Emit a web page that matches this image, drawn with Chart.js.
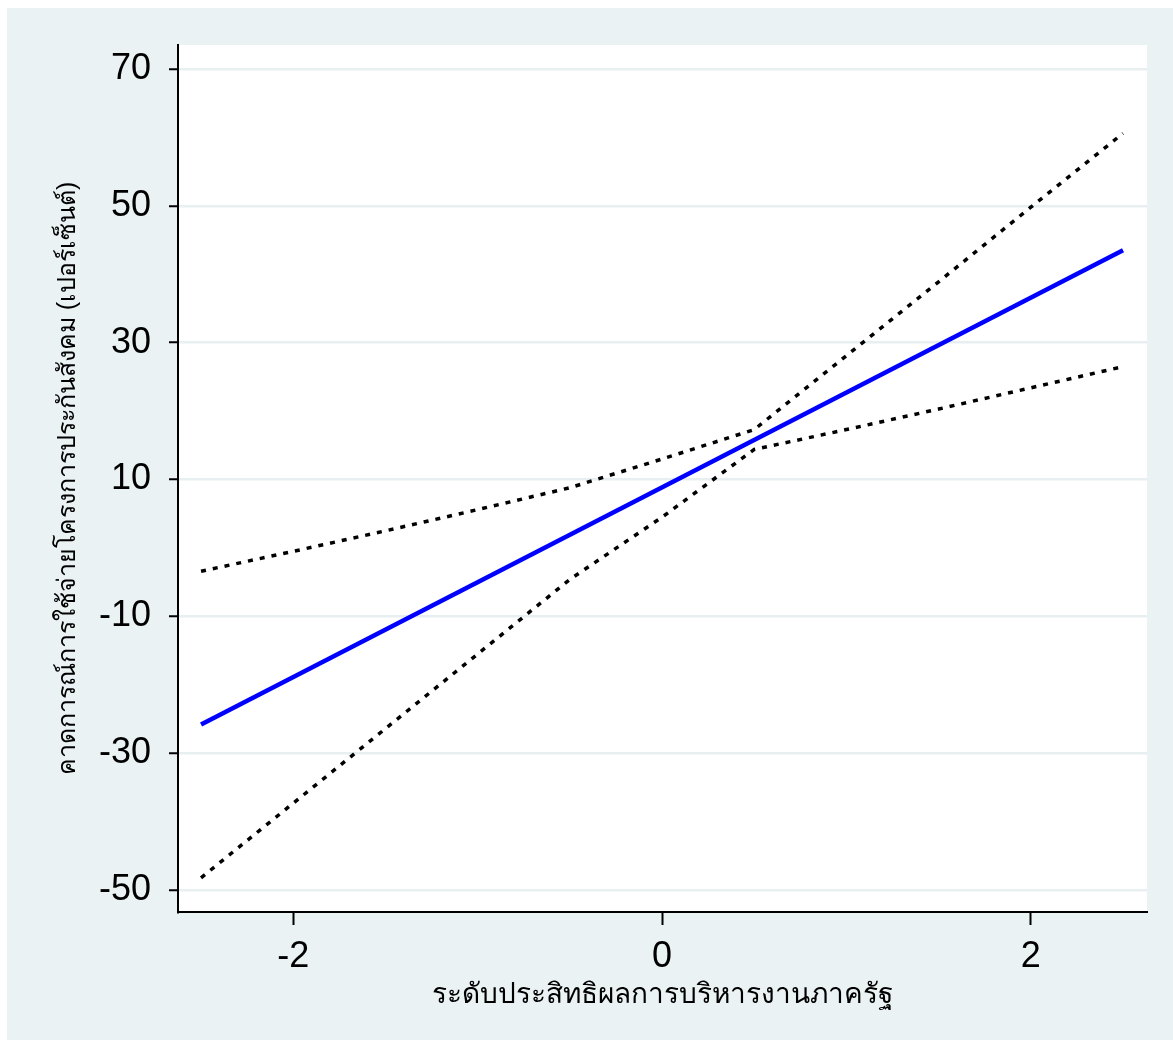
<!DOCTYPE html>
<html>
<head>
<meta charset="utf-8">
<script src="https://cdn.jsdelivr.net/npm/chart.js@4.4.1/dist/chart.umd.min.js"></script>
<style>
  html, body { margin: 0; padding: 0; background: #ffffff; }
  #wrap { width: 1173px; height: 1048px; }
</style>
</head>
<body>
<div id="wrap"><canvas id="fitChart" width="1173" height="1048"></canvas></div>
<script>
// values
const xGrid = [-2.5, -2, -1.5, -1, -0.5, 0, 0.5, 1, 1.5, 2, 2.5];
const upperCI = [-3.4, -0.5, 2.5, 5.6, 8.8, 13.0, 17.3, 28.1, 38.9, 49.8, 60.6];
const lowerCI = [-48.2, -37.3, -26.4, -15.5, -4.6, 4.5, 14.4, 17.3, 20.3, 23.4, 26.5];
const fitX = [-2.5, 2.5];
const fitY = [-25.8, 43.5];
const yTicks = [-50, -30, -10, 10, 30, 50, 70];
const xTicks = [-2, 0, 2];
const xTitle = 'ระดับประสิทธิผลการบริหารงานภาครัฐ';
const yTitle = 'คาดการณ์การใช้จ่ายโครงการประกันสังคม (เปอร์เซ็นต์)';

const toPoints = (xs, ys) => xs.map((x, i) => ({ x: x, y: ys[i] }));

const FONT = "'Liberation Sans', Arial, 'Noto Sans', sans-serif";

// stata-like background: outer panel + white plot region
const panelBg = {
    id: 'panelBg',
    beforeDraw(chart) {
        const ctx = chart.ctx;
        const a = chart.chartArea;
        ctx.save();
        ctx.fillStyle = '#ffffff';
        ctx.fillRect(0, 0, chart.width, chart.height);
        ctx.fillStyle = '#eaf2f3';
        ctx.fillRect(7, 8, chart.width - 7, chart.height - 16);
        ctx.fillStyle = '#ffffff';
        ctx.fillRect(a.left, a.top, a.right - a.left, a.bottom - a.top);
        ctx.restore();
    }
};

new Chart(document.getElementById('fitChart'), {
    type: 'scatter',
    data: {
        datasets: [
            {
                label: 'fit',
                data: toPoints(fitX, fitY),
                showLine: true,
                borderColor: '#0000ff',
                borderWidth: 4.5,
                pointRadius: 0,
                fill: false
            },
            {
                label: 'upper',
                data: toPoints(xGrid, upperCI),
                showLine: true,
                borderColor: '#000000',
                borderWidth: 3.5,
                borderDash: [5, 7],
                pointRadius: 0,
                tension: 0,
                fill: false
            },
            {
                label: 'lower',
                data: toPoints(xGrid, lowerCI),
                showLine: true,
                borderColor: '#000000',
                borderWidth: 3.5,
                borderDash: [5, 7],
                pointRadius: 0,
                tension: 0,
                fill: false
            }
        ]
    },
    options: {
        responsive: false,
        animation: false,
        devicePixelRatio: 1,
        layout: { padding: { left: 0, top: 45, right: 26, bottom: 0 } },
        plugins: {
            legend: { display: false },
            tooltip: { enabled: false }
        },
        scales: {
            x: {
                type: 'linear',
                min: -2.625,
                max: 2.63,
                afterBuildTicks: (s) => { s.ticks = xTicks.map(v => ({ value: v })); },
                afterFit: (s) => { s.height = 136; },
                grid: {
                    drawOnChartArea: false,
                    drawTicks: true,
                    tickLength: 13,
                    tickColor: '#000000',
                    tickWidth: 2
                },
                border: { display: true, color: '#000000', width: 2 },
                ticks: {
                    color: '#000000',
                    padding: 10,
                    maxRotation: 0,
                    font: { family: FONT, size: 36 }
                },
                title: {
                    display: true,
                    text: xTitle,
                    color: '#000000',
                    padding: { top: 0, bottom: 36 },
                    font: { family: FONT, size: 28 }
                }
            },
            y: {
                type: 'linear',
                min: -53.2,
                max: 73.5,
                afterBuildTicks: (s) => { s.ticks = yTicks.map(v => ({ value: v })); },
                afterFit: (s) => { s.width = 178; },
                grid: {
                    color: '#e8eff1',
                    lineWidth: 2.5,
                    drawTicks: true,
                    tickLength: 9,
                    tickColor: '#000000',
                    tickWidth: 2
                },
                border: { display: true, color: '#000000', width: 2 },
                ticks: {
                    color: '#000000',
                    padding: 18,
                    font: { family: FONT, size: 36 }
                },
                title: {
                    display: true,
                    text: yTitle,
                    color: '#000000',
                    padding: { top: 53, bottom: 0 },
                    font: { family: FONT, size: 25 }
                }
            }
        }
    },
    plugins: [panelBg]
});
</script>
</body>
</html>
